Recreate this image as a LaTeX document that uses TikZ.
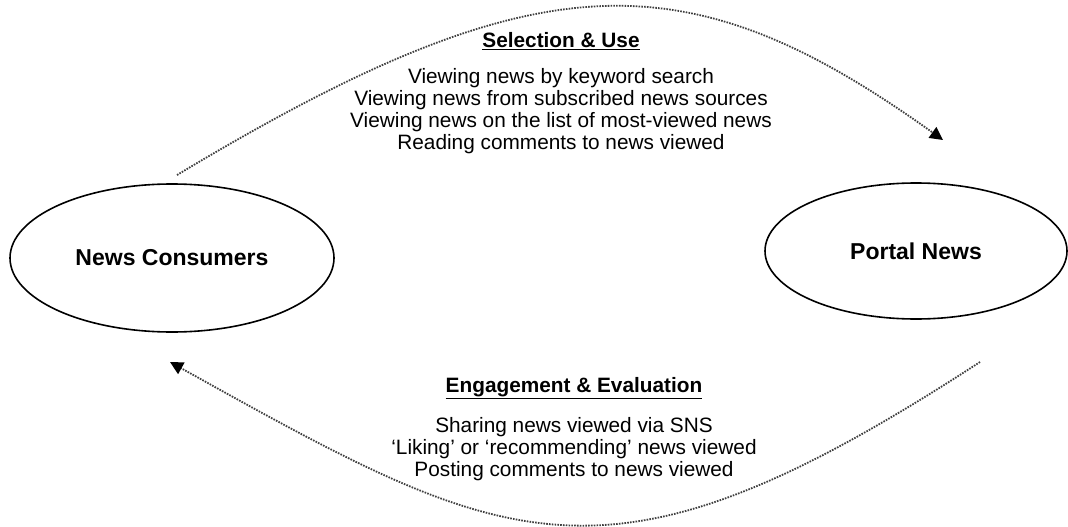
\documentclass[tikz,border=0pt]{standalone}
\usepackage{fontspec}
\setmainfont{Liberation Sans}
\usetikzlibrary{shapes.geometric,arrows.meta}

\begin{document}
\begin{tikzpicture}[x=1pt,y=-1pt,>={Triangle[length=13pt,width=13pt,color=black]},main node/.style={ellipse,draw,line width=1.6pt,inner sep=0pt,font=\fontsize{23}{26}\selectfont\bfseries},head node/.style={inner sep=0pt,font=\fontsize{20.8}{24}\selectfont\bfseries},list node/.style={inner sep=0pt,align=center,font=\fontsize{20.8}{21.8}\selectfont},flow/.style={->,dash pattern=on 1.6pt off 1.2pt,line width=1.8pt,black!75}]
            \useasboundingbox (0,0) rectangle (1068,527);

            \node[main node, minimum width=324, minimum height=148] (1) at (172,258) {News Consumers};
            \node[main node, minimum width=302, minimum height=136] (2) at (916,251) {Portal News};

            \node[head node] (3) at (561,41) {\underline{Selection \& Use}};
            \node[list node] (4) at (561,111) {Viewing news by keyword search\\Viewing news from subscribed news sources\\Viewing news on the list of most-viewed news\\Reading comments to news viewed};

            \node[head node] (5) at (574,388) {\underline{Engagement \& Evaluation}};
            \node[list node] (6) at (574,449) {Sharing news viewed via SNS\\`Liking' or `recommending' news viewed\\Posting comments to news viewed};

            \coordinate (a) at (177,175);
            \coordinate (b) at (943,140);
            \coordinate (c) at (980,362);
            \coordinate (d) at (170,362);

            \draw[flow] (a) .. controls (540,-43) and (687,-43) .. (b);
            \draw[flow] (c) .. controls (605,606) and (510,551) .. (d);
\end{tikzpicture}
\end{document}
